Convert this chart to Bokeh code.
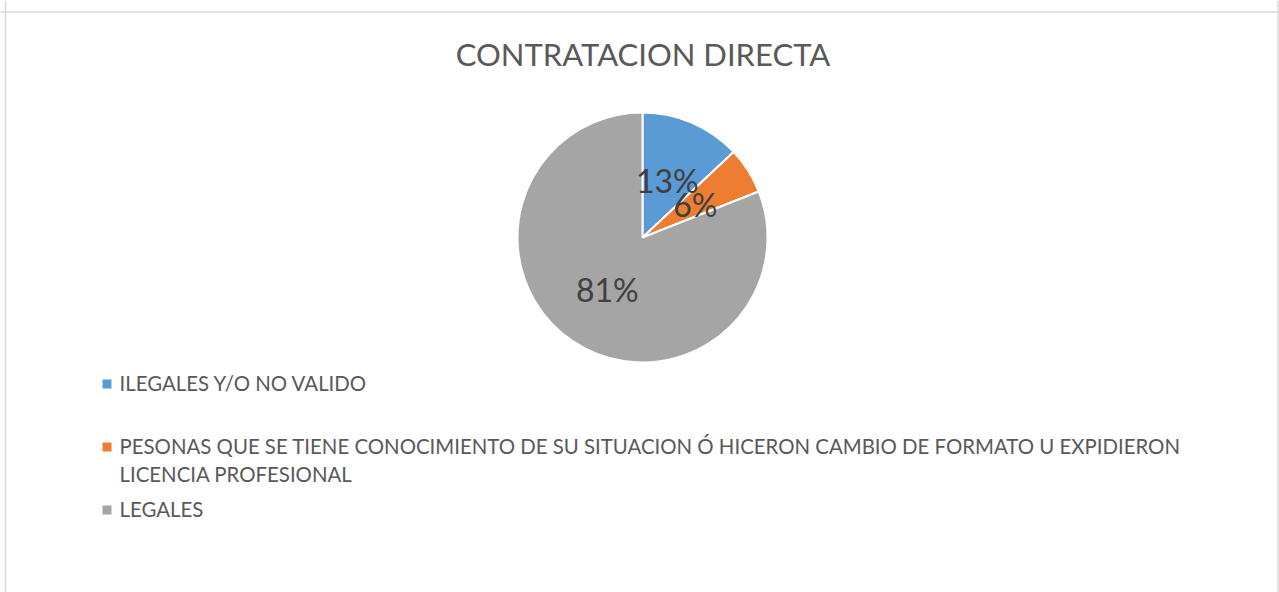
import math
import textwrap
from bokeh.plotting import figure
from bokeh.models import Range1d, Span, ColumnDataSource
from bokeh.core.properties import value
from bokeh.embed import file_html
from bokeh.resources import INLINE

# ---- data ----
title_text = "CONTRATACION DIRECTA"
categories = [
    "ILEGALES Y/O NO VALIDO",
    "PESONAS QUE SE TIENE CONOCIMIENTO DE SU SITUACION Ó HICERON CAMBIO DE FORMATO U EXPIDIERON LICENCIA PROFESIONAL",
    "LEGALES",
]
values = [13, 6, 81]
colors = ["#5B9BD5", "#ED7D31", "#A5A5A5"]

# ---- layout (screen pixels) ----
W, H = 1279, 592
FONT = "Lato"
TITLE_PX = 31
LEG_PX = 20.4
BASE_FIX = 0.42  # correction for where the rendered baseline lands


def sy(y_screen):
    return H - y_screen


p = figure(width=W, height=H, output_backend="svg", toolbar_location=None,
           x_range=Range1d(0, W), y_range=Range1d(0, H),
           min_border=0, outline_line_color=None)
p.axis.visible = False
p.grid.visible = False
p.background_fill_color = "white"
p.border_fill_color = "white"

# chart border
border = "#D9D9D9"
p.add_layout(Span(location=5, dimension="height", line_color=border, line_width=1.5))
p.add_layout(Span(location=1277.5, dimension="height", line_color=border, line_width=1.5))
p.add_layout(Span(location=sy(11.5), dimension="width", line_color=border, line_width=1.5))

# title
p.text(x=[642.5], y=[sy(67 - BASE_FIX * TITLE_PX)], text=[title_text], text_font=value(FONT),
       text_font_size=f"{TITLE_PX}px", text_color="#595959", text_align="center",
       text_baseline="alphabetic")

# pie
cx, cy, R = 642, sy(237), 125
total = float(sum(values))
fr = [v / total for v in values]
starts, ends, mids = [], [], []
cum = 0.0
for f in fr:
    a0 = math.pi / 2 - 2 * math.pi * cum
    a1 = math.pi / 2 - 2 * math.pi * (cum + f)
    starts.append(a0)
    ends.append(a1)
    mids.append((a0 + a1) / 2)
    cum += f

src = ColumnDataSource(dict(x=[cx] * 3, y=[cy] * 3, start=starts, end=ends, color=colors))
p.wedge(x="x", y="y", radius=R, radius_units="screen", start_angle="start",
        end_angle="end", direction="clock", fill_color="color",
        line_color="white", line_width=2, source=src)

lab_r = 0.5 * R
lx = [cx + lab_r * math.cos(m) for m in mids]
ly = [cy + lab_r * math.sin(m) for m in mids]
labels = [f"{round(f * 100):.0f}%" for f in fr]
p.text(x=lx, y=ly, text=labels, text_font=value(FONT), text_font_size="32px",
       text_color="#404040", text_align="center", text_baseline="middle")

# legend (manual)
leg_text_x = 119
leg_sq_x = 106.5
baselines = [391, 454, 517]
line_gap = 28
sq_x, sq_y, sq_c = [], [], []
tx, ty, tt = [], [], []
for cat, col, b in zip(categories, colors, baselines):
    lines = textwrap.wrap(cat, 90)
    sq_x.append(leg_sq_x)
    sq_y.append(sy(b - 7.5))
    sq_c.append(col)
    for i, ln in enumerate(lines):
        tx.append(leg_text_x)
        ty.append(sy(b + i * line_gap - BASE_FIX * LEG_PX))
        tt.append(ln)
p.rect(x=sq_x, y=sq_y, width=9, height=9, width_units="screen",
       height_units="screen", fill_color=sq_c, line_color=None)
p.text(x=tx, y=ty, text=tt, text_font=value(FONT), text_font_size=f"{LEG_PX}px",
       text_color="#595959", text_align="left", text_baseline="alphabetic")

open("out.html", "w").write(file_html(p, INLINE))
